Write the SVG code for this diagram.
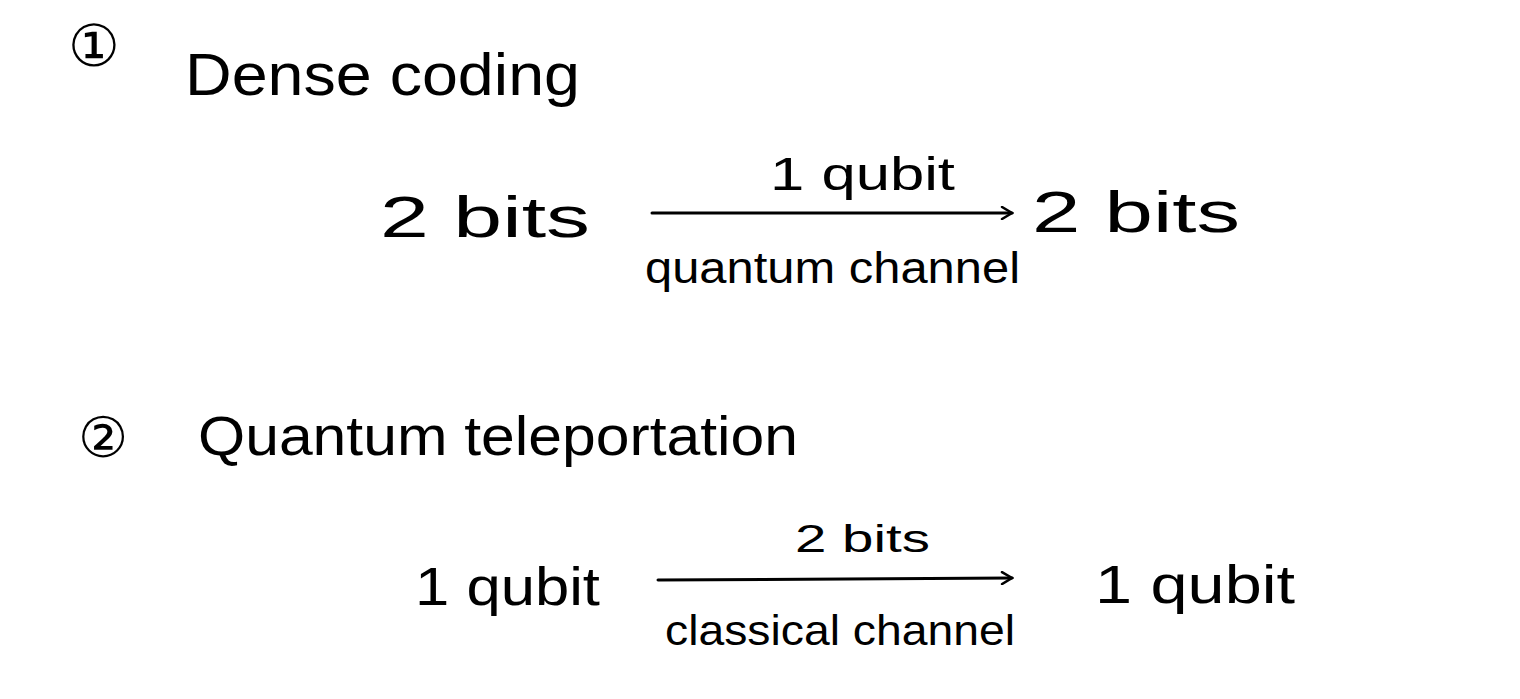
<svg xmlns="http://www.w3.org/2000/svg" width="1520" height="699" viewBox="0 0 1520 699">
<style>
text{font-family:"Liberation Sans","DejaVu Sans",sans-serif;fill:#000}
.num{font-family:"DejaVu Sans",sans-serif}
.conn{stroke:#000;stroke-width:3;fill:none;stroke-linecap:round}
</style>
<defs>
<marker id="arr" markerWidth="14" markerHeight="14" refX="12" refY="7" orient="auto" markerUnits="userSpaceOnUse">
<path d="M2,1 L12,7 L2,13" fill="none" stroke="#000" stroke-width="2.5" stroke-linecap="round"/>
</marker>
</defs>
<rect width="1520" height="699" fill="#fff"/>
<g id="title1">
<text class="num" x="68" y="66" font-size="58">①</text>
<text x="185" y="95" font-size="60" textLength="395" lengthAdjust="spacingAndGlyphs">Dense coding</text>
</g>
<g id="src1"><text x="380" y="237" font-size="58" textLength="210" lengthAdjust="spacingAndGlyphs">2 bits</text></g>
<g id="dst1"><text x="1032" y="232" font-size="58" textLength="208" lengthAdjust="spacingAndGlyphs">2 bits</text></g>
<g id="title2">
<text class="num" x="78" y="457" font-size="56">②</text>
<text x="198" y="455" font-size="56" textLength="600" lengthAdjust="spacingAndGlyphs">Quantum teleportation</text>
</g>
<g id="src2"><text x="415" y="605" font-size="54" textLength="185" lengthAdjust="spacingAndGlyphs">1 qubit</text></g>
<g id="dst2"><text x="1095" y="603" font-size="54" textLength="200" lengthAdjust="spacingAndGlyphs">1 qubit</text></g>
<g id="connectors">
<line class="conn" x1="652" y1="213" x2="1012" y2="213" marker-end="url(#arr)"/>
<text x="770" y="190" font-size="46" textLength="185" lengthAdjust="spacingAndGlyphs">1 qubit</text>
<text x="645" y="283" font-size="44" textLength="375" lengthAdjust="spacingAndGlyphs">quantum channel</text>
<line class="conn" x1="658" y1="580" x2="1012" y2="578" marker-end="url(#arr)"/>
<text x="795" y="552" font-size="38" textLength="135" lengthAdjust="spacingAndGlyphs">2 bits</text>
<text x="665" y="645" font-size="42" textLength="350" lengthAdjust="spacingAndGlyphs">classical channel</text>
</g>
</svg>
